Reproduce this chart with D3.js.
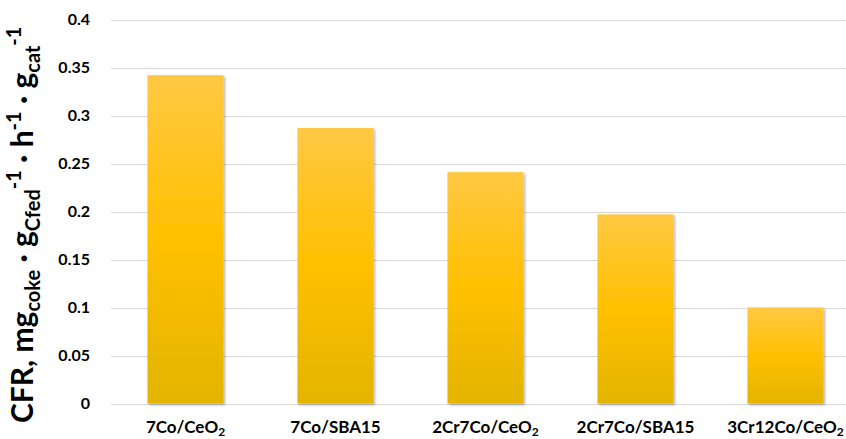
<!DOCTYPE html>
<html>
<head>
<meta charset="utf-8">
<script src="https://cdn.jsdelivr.net/npm/d3@7"></script>
<style>
  html, body { margin: 0; padding: 0; background: #fff; }
  svg { display: block; font-family: Lato, "Open Sans", sans-serif; }
</style>
</head>
<body>
<svg id="chart" width="846" height="439"></svg>
<script>
// ---- data ----
const categories = ["7Co/CeO2", "7Co/SBA15", "2Cr7Co/CeO2", "2Cr7Co/SBA15", "3Cr12Co/CeO2"];
const values = [0.342, 0.287, 0.241, 0.197, 0.100];
const yTicks = [0, 0.05, 0.1, 0.15, 0.2, 0.25, 0.3, 0.35, 0.4];

const svg = d3.select("#chart");
const W = 846, H = 439;
const plot = { left: 110.5, right: 860.5, top: 19.5, bottom: 403.5 };

const x = d3.scaleBand().domain(categories)
  .range([plot.left, plot.right]).paddingInner(0.493).paddingOuter(0.2465);
const y = d3.scaleLinear().domain([0, 0.4]).range([plot.bottom, plot.top]);

// defs
const defs = svg.append("defs");
const grad = defs.append("linearGradient").attr("id", "barGrad")
  .attr("x1", 0).attr("y1", 0).attr("x2", 0).attr("y2", 1);
grad.append("stop").attr("offset", "0%").attr("stop-color", "#FFC843");
grad.append("stop").attr("offset", "50%").attr("stop-color", "#FFC000");
grad.append("stop").attr("offset", "100%").attr("stop-color", "#E3B400");
const shadow = defs.append("filter").attr("id", "shadow")
  .attr("x", "-10%").attr("y", "-10%").attr("width", "130%").attr("height", "130%");
shadow.append("feDropShadow").attr("dx", 1.5).attr("dy", 1.5).attr("stdDeviation", 1.2)
  .attr("flood-color", "#000").attr("flood-opacity", 0.3);

// gridlines via axis
const yGrid = d3.axisLeft(y).tickValues(yTicks).tickSize(-(W - plot.left)).tickFormat("");
const gg = svg.append("g").attr("transform", `translate(${plot.left},0)`).call(yGrid);
gg.select(".domain").remove();
gg.selectAll(".tick line").attr("stroke", "#d9d9d9").attr("stroke-width", 1)
  .attr("shape-rendering", "crispEdges");

// y tick labels
const yAxis = d3.axisLeft(y).tickValues(yTicks).tickSize(0).tickPadding(0)
  .tickFormat(d => d3.format("")(+d.toFixed(2)));
const ya = svg.append("g").attr("transform", "translate(90,0)").call(yAxis);
ya.select(".domain").remove();
ya.selectAll(".tick text").attr("font-family", "Lato, sans-serif")
  .attr("font-size", 16).attr("font-weight", "bold").attr("fill", "#000");

// bars
svg.append("g").selectAll("rect").data(values).join("rect")
  .attr("x", (d, i) => x(categories[i]))
  .attr("y", d => y(d))
  .attr("width", x.bandwidth())
  .attr("height", d => y(0) - y(d))
  .attr("fill", "url(#barGrad)")
  .attr("filter", "url(#shadow)");

// x labels with subscript
const xl = svg.append("g");
categories.forEach(c => {
  const t = xl.append("text")
    .attr("x", x(c) + x.bandwidth() / 2)
    .attr("y", 433)
    .attr("text-anchor", "middle")
    .attr("font-size", 17).attr("font-weight", "bold").attr("fill", "#000");
  const m = c.match(/^(.*O)2$/);
  if (m) {
    t.append("tspan").text(m[1]);
    t.append("tspan").attr("font-size", 12).attr("dy", 3).text("2");
  } else {
    t.text(c);
  }
});

// y axis title
const title = svg.append("text")
  .attr("transform", "translate(33,423) rotate(-90)")
  .attr("font-size", 30).attr("font-weight", "bold").attr("fill", "#000");
const parts = [
  ["CFR, mg", 0, 30],
  ["coke", 7, 20],
  [" · g", -7, 30],
  ["Cfed", 7, 20],
  ["-1", -19, 20],
  [" · h", 12, 30],
  ["-1", -12, 20],
  [" · g", 12, 30],
  ["cat", 7, 20],
  ["-1", -19, 20]
];
parts.forEach(p => {
  title.append("tspan").attr("dy", p[1]).attr("font-size", p[2]).text(p[0]);
});
</script>
</body>
</html>
